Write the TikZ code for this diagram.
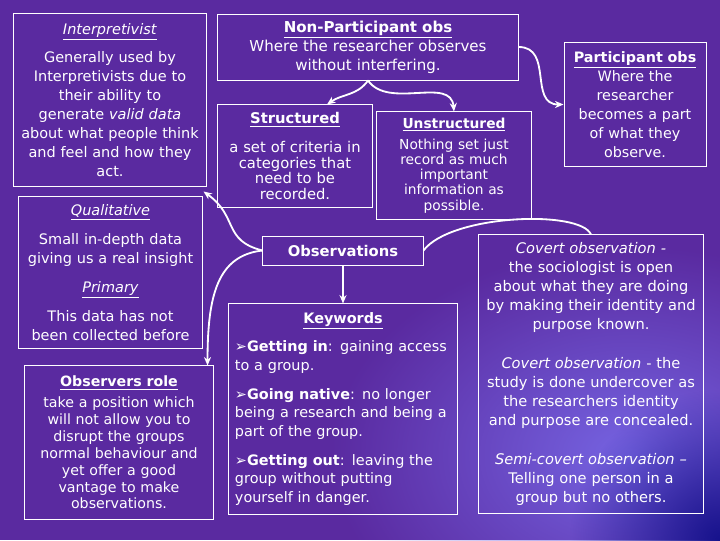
\documentclass[tikz,border=0pt]{standalone}
\usepackage{fontspec}
\setmainfont{DejaVu Sans}
\usepackage{xcolor}
\usepackage{tikz}
\usetikzlibrary{arrows.meta}
\usetikzlibrary{calc}
\usetikzlibrary{fadings}
\definecolor{slidepurple}{RGB}{90,42,160}
\definecolor{slideglow}{RGB}{118,100,226}
\definecolor{slidenavy}{RGB}{22,18,140}
\newcommand{\headi}[1]{\underline{\textit{#1}}}
\newcommand{\headb}[1]{\underline{\textbf{#1}}}
\tikzfading[name=softglow, inner color=transparent!0, outer color=transparent!100]
\tikzset{
  infobox/.style={draw=white, line width=0.7pt, text=white, align=center, inner sep=0pt,
    font=\fontsize{10.3}{13.5}\selectfont},
  link/.style={draw=white, line width=1.3pt, -{Stealth[length=6pt,width=5pt]}},
}

\begin{document}
\begin{tikzpicture}[x=0.025cm, y=0.025cm]
    \useasboundingbox (0,0) rectangle (720,-540);
    % slide background
    \begin{scope}
        \clip (0,0) rectangle (720,-540);
        \fill[slidepurple] (0,0) rectangle (720,-540);
        \fill[slideglow, path fading=softglow] (630,-455) ellipse (300 and 210);
        \fill[slidenavy, path fading=softglow] (720,-540) circle (150);
    \end{scope}

    % left column
    \node[infobox, minimum width=4.8cm, minimum height=4.3cm, text width=4.75cm,
        font=\fontsize{10.3}{13.5}\selectfont] (interp) at (110,-100)
        {\headi{Interpretivist}\\[6pt]
        Generally used by\\ Interpretivists due to\\ their ability to\\
        generate \textit{valid data}\\ about what people think\\ and feel and how they\\ act.};
    \node[infobox, minimum width=4.575cm, minimum height=3.775cm, text width=4.5cm] (qual) at (110.5,-272.5)
        {\headi{Qualitative}\\[7pt]
        Small in-depth data\\ giving us a real insight\\[7pt]
        \headi{Primary}\\[7pt]
        This data has not\\ been collected before};
    \node[infobox, minimum width=4.7cm, minimum height=3.825cm, text width=4.6cm,
        font=\fontsize{10.1}{12}\selectfont] (role) at (119,-442.5)
        {\headb{Observers role}\\[3pt]
        take a position which\\ will not allow you to\\ disrupt the groups\\
        normal behaviour and\\ yet offer a good\\ vantage to make\\ observations.};

    % middle column
    \node[infobox, minimum width=7.5cm, minimum height=1.65cm, text width=7.3cm,
        font=\fontsize{10.7}{13.5}\selectfont] (nonpart) at (368,-47)
        {\headb{Non-Participant obs}\\
        Where the researcher observes\\ without interfering.};
    \node[infobox, minimum width=3.85cm, minimum height=2.55cm, text width=3.8cm,
        font=\fontsize{10.5}{11}\selectfont] (struct) at (295,-156)
        {\headb{Structured}\\[9.5pt]
        a set of criteria in\\ categories that\\ need to be\\ recorded.};
    \node[infobox, minimum width=3.85cm, minimum height=2.675cm, text width=3.8cm,
        font=\fontsize{9.8}{10.8}\selectfont] (unstruct) at (454,-165.5)
        {\headb{Unstructured}\\[4pt]
        Nothing set just\\ record as much\\ important\\ information as\\ possible.};
    \node[infobox, minimum width=4cm, minimum height=0.725cm,
        font=\fontsize{10.5}{12}\selectfont\bfseries] (obs) at (343,-250.5) {Observations};
    \node[infobox, align=left, minimum width=5.7cm, minimum height=5.25cm, text width=5.4cm,
        font=\fontsize{10.25}{13.3}\selectfont] (keys) at (343,-409)
        {\makebox[\linewidth]{\headb{Keywords}}\\[7pt]
        ➢\textbf{Getting in}: gaining access\\ to a group.\\[7pt]
        ➢\textbf{Going native}: no longer\\ being a research and being a\\ part of the group.\\[7pt]
        ➢\textbf{Getting out}: leaving the\\ group without putting\\ yourself in danger.};

    % right column
    \node[infobox, minimum width=3.55cm, minimum height=3.075cm, text width=3.5cm,
        font=\fontsize{10.2}{13.5}\selectfont] (part) at (635,-104.5)
        {\headb{Participant obs}\\
        Where the\\ researcher\\ becomes a part\\ of what they\\ observe.};
    \node[infobox, minimum width=5.6cm, minimum height=6.95cm, text width=5.5cm,
        font=\fontsize{10.4}{13.5}\selectfont] (covert) at (591,-374)
        {\textit{Covert observation -}\\ the sociologist is open\\ about what they are doing\\
        by making their identity and\\ purpose known.\\[14pt]
        \textit{Covert observation} - the\\ study is done undercover as\\
        the researchers identity\\ and purpose are concealed.\\[14pt]
        \textit{Semi-covert observation –}\\ Telling one person in a\\ group but no others.};

    % curved links
    \draw[link] (nonpart.south) to[out=235, in=35] ($(struct.north)+(32,0)$);
    \draw[link] (nonpart.south) to[out=-55, in=95] (unstruct.north);
    \draw[link] (nonpart.east) .. controls +(35,0) and +(-35,0) .. (part.west);
    \draw[link] (obs.west) .. controls +(-40,10) and +(35,-25) .. ($(interp.south east)+(-3,-5)$);
    \draw[link] (obs.west) .. controls +(-45,-5) and +(0,70) .. ($(role.north east)+(-6,0)$);
    \draw[link] (obs.south) -- (keys.north);
    \draw[white, line width=1.3pt] (obs.east) .. controls +(27,36) and +(-11,25) .. (covert.north);
\end{tikzpicture}
\end{document}
